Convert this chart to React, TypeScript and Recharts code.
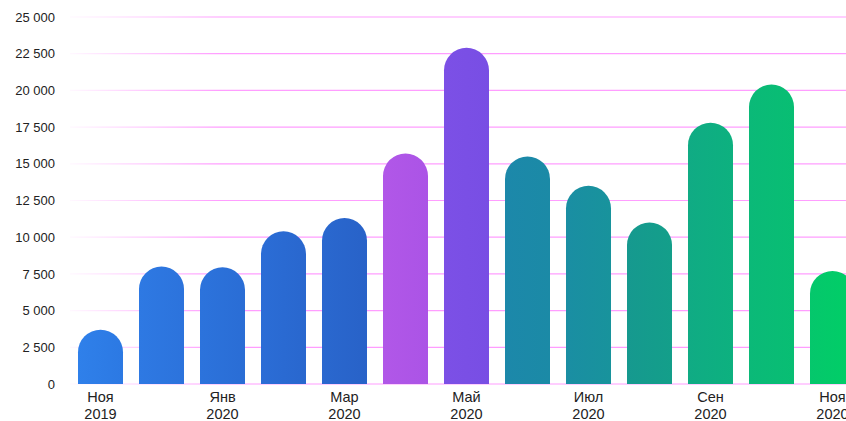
import { BarChart, Bar, XAxis, YAxis, CartesianGrid, Cell } from "recharts";

const MONTHS = [
  "Ноя 2019",
  "Дек 2019",
  "Янв 2020",
  "Фев 2020",
  "Мар 2020",
  "Апр 2020",
  "Май 2020",
  "Июн 2020",
  "Июл 2020",
  "Авг 2020",
  "Сен 2020",
  "Окт 2020",
  "Ноя 2020",
];

const VALUES = [3700, 8000, 7950, 10400, 11300, 15700, 22900, 15500, 13500, 11000, 17800, 20400, 7700];

const Y_TICKS = [0, 2500, 5000, 7500, 10000, 12500, 15000, 17500, 20000, 22500, 25000];

// left/right colour of each bar's horizontal gradient
const COLORS_LEFT = [
  "#2f80ea", "#2e79e3", "#2c73dc", "#2b6dd6", "#2a68cf",
  "#b157e8", "#7c50e6",
  "#1c88aa", "#1a8ea3", "#16998f", "#10ab84", "#0bb978", "#05c76c",
];
const COLORS_RIGHT = [
  "#2c79e3", "#2c73dc", "#2a6dd5", "#2967ce", "#2862c8",
  "#ab54e6", "#784ee4",
  "#1b8aa6", "#18939c", "#139f8a", "#0db17f", "#08be73", "#00cf66",
];

const data = MONTHS.map((m, i) => ({ month: m, value: VALUES[i] }));

const FONT = "'Liberation Sans', Arial, sans-serif";

const fmt = (v: number) => String(v).replace(/\B(?=(\d{3})+(?!\d))/g, " ");

function MonthTick({ x, y, payload }: { x?: number; y?: number; payload?: { value: string } }) {
  const [m, yr] = (payload?.value ?? "").split(" ");
  return (
    <text x={x} y={y} textAnchor="middle" fill="#222" fontSize={14.5} fontFamily={FONT}>
      <tspan x={x} dy={10}>{m}</tspan>
      <tspan x={x} dy={16.5}>{yr}</tspan>
    </text>
  );
}

export default function App() {
  return (
    <div
      style={{
        position: "fixed",
        left: 0,
        top: 0,
        width: 846,
        height: 421,
        overflow: "hidden",
        background: "#fff",
      }}
    >
      <BarChart
        width={863}
        height={421}
        data={data}
        margin={{ top: 17, right: 0, bottom: 0, left: 0 }}
        barSize={45}
      >
        <defs>
          <linearGradient id="gridFade" gradientUnits="userSpaceOnUse" x1={68} y1={0} x2={220} y2={0}>
            <stop offset="0%" stopColor="#ff8cff" stopOpacity={0.05} />
            <stop offset="100%" stopColor="#ff8cff" stopOpacity={0.85} />
          </linearGradient>
          {VALUES.map((_, i) => (
            <linearGradient key={i} id={`bar${i}`} x1="0" y1="0" x2="1" y2="0">
              <stop offset="0%" stopColor={COLORS_LEFT[i]} />
              <stop offset="100%" stopColor={COLORS_RIGHT[i]} />
            </linearGradient>
          ))}
        </defs>
        <CartesianGrid vertical={false} stroke="url(#gridFade)" strokeWidth={1.2} />
        <XAxis
          dataKey="month"
          interval={1}
          axisLine={false}
          tickLine={false}
          height={37}
          tick={<MonthTick />}
        />
        <YAxis
          width={70}
          domain={[0, 25000]}
          ticks={Y_TICKS}
          tickFormatter={fmt}
          axisLine={false}
          tickLine={false}
          tickSize={0}
          tickMargin={15}
          tick={{ fontSize: 13, fill: "#222", fontFamily: FONT }}
        />
        <Bar dataKey="value" radius={[22.5, 22.5, 0, 0]} isAnimationActive={false}>
          {data.map((_, i) => (
            <Cell key={i} fill={`url(#bar${i})`} />
          ))}
        </Bar>
      </BarChart>
    </div>
  );
}
